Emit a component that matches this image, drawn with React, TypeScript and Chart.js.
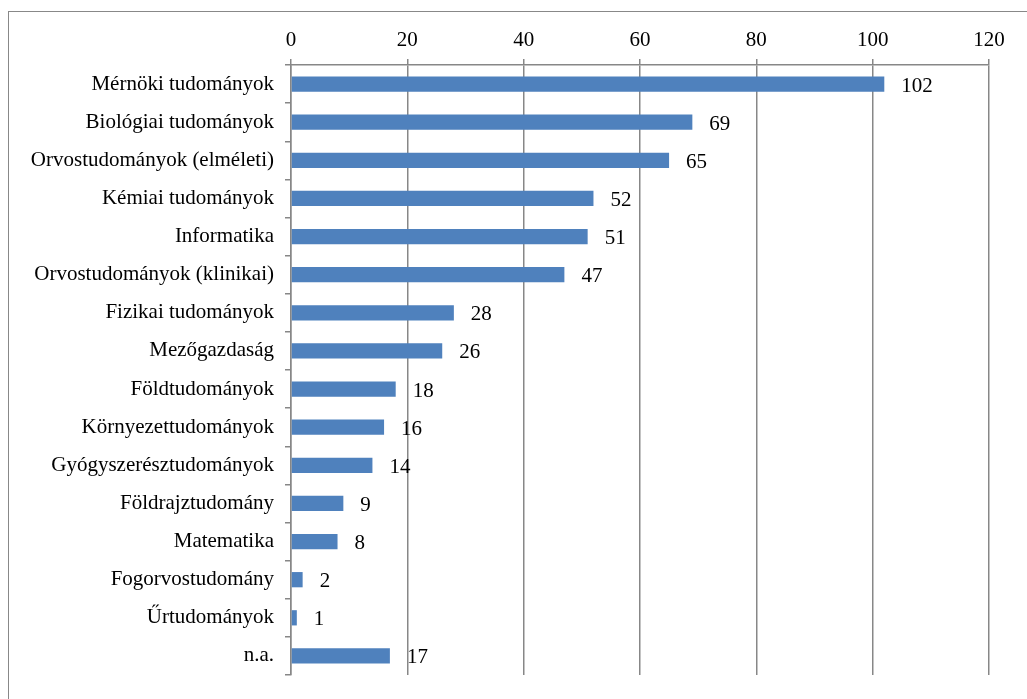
import React, { useEffect, useRef } from "react";
import { Chart, registerables } from "chart.js";

Chart.register(...registerables);

const categories = [
  "Mérnöki tudományok",
  "Biológiai tudományok",
  "Orvostudományok (elméleti)",
  "Kémiai tudományok",
  "Informatika",
  "Orvostudományok (klinikai)",
  "Fizikai tudományok",
  "Mezőgazdaság",
  "Földtudományok",
  "Környezettudományok",
  "Gyógyszerésztudományok",
  "Földrajztudomány",
  "Matematika",
  "Fogorvostudomány",
  "Űrtudományok",
  "n.a.",
];
const values = [102, 69, 65, 52, 51, 47, 28, 26, 18, 16, 14, 9, 8, 2, 1, 17];
const axisMin = 0;
const axisMax = 120;
const axisStep = 20;

const FONT = "'Liberation Serif', 'Times New Roman', serif";
const FONT_SIZE = 21;

const valueLabels = {
  id: "valueLabels",
  afterDatasetsDraw(chart: any) {
    const ctx = chart.ctx;
    const meta = chart.getDatasetMeta(0);
    const xs = chart.scales.x;
    ctx.save();
    ctx.font = `${FONT_SIZE}px ${FONT}`;
    ctx.fillStyle = "#000";
    ctx.textAlign = "left";
    ctx.textBaseline = "middle";
    meta.data.forEach((bar: any, i: number) => {
      const v = chart.data.datasets[0].data[i];
      ctx.fillText(String(v), xs.getPixelForValue(v) + 17, bar.y + 2);
    });
    ctx.restore();
  },
};

export default function App() {
  const ref = useRef<HTMLCanvasElement>(null);
  useEffect(() => {
    if (!ref.current) return;
    const chart = new Chart(ref.current, {
      type: "bar",
      data: {
        labels: categories,
        datasets: [
          {
            data: values,
            backgroundColor: "#4F81BD",
            borderColor: "#8EAEDA",
            borderWidth: 0,
            categoryPercentage: 1,
            barPercentage: 0.4,
          },
        ],
      },
      options: {
        indexAxis: "y",
        animation: false,
        responsive: false,
        maintainAspectRatio: false,
        layout: { padding: { left: 0, top: 0, right: 38, bottom: 24 } },
        plugins: {
          legend: { display: false },
          tooltip: { enabled: false },
        },
        scales: {
          x: {
            position: "top",
            min: axisMin,
            max: axisMax,
            ticks: {
              stepSize: axisStep,
              color: "#000",
              font: { family: FONT, size: FONT_SIZE },
              padding: 6,
            },
            grid: {
              color: "#878787",
              lineWidth: 1.5,
              tickLength: 6,
              drawTicks: true,
            },
            border: { color: "#878787", width: 1.5 },
            afterFit(scale: any) {
              scale.height = 53;
            },
          },
          y: {
            ticks: {
              color: "#000",
              font: { family: FONT, size: FONT_SIZE },
              padding: 11,
              autoSkip: false,
            },
            grid: {
              offset: true,
              drawOnChartArea: false,
              color: "#878787",
              lineWidth: 1.5,
              tickLength: 6,
            },
            border: { color: "#878787", width: 1.5 },
            afterFit(scale: any) {
              scale.width = 282;
            },
          },
        },
      },
      plugins: [valueLabels],
    });
    return () => chart.destroy();
  }, []);

  return (
    <div
      style={{
        position: "absolute",
        left: 8,
        top: 11,
        width: 1030,
        height: 700,
        border: "1.5px solid #888",
        boxSizing: "border-box",
        overflow: "hidden",
        background: "#fff",
      }}
    >
      <canvas
        ref={ref}
        width={1018}
        height={687}
        style={{ position: "absolute", left: 0, top: 0, width: 1018, height: 687 }}
      />
    </div>
  );
}
